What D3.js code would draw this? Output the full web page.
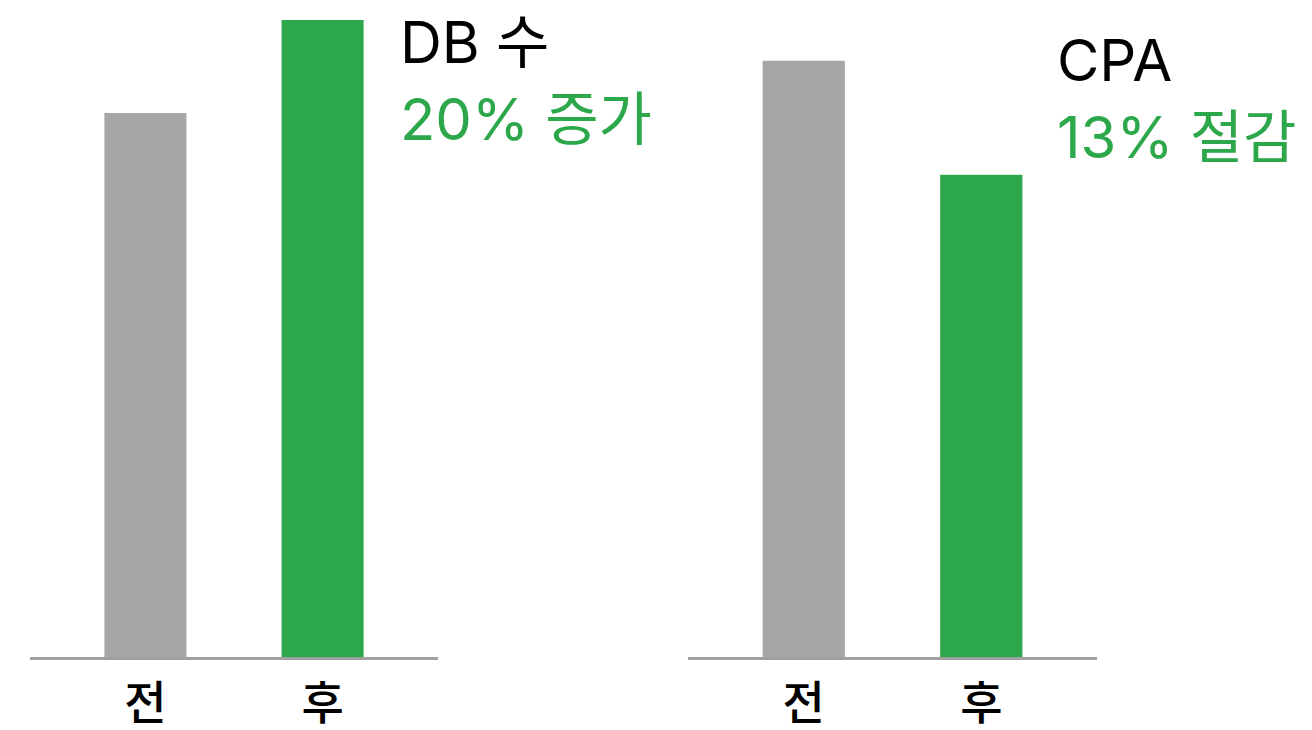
<!DOCTYPE html>
<html><head><meta charset="utf-8">
<script src="https://cdn.jsdelivr.net/npm/d3@7"></script>
<style>
html,body{margin:0;padding:0;background:#fff;}
text{font-family:Inter,"Noto Sans CJK KR",sans-serif;}
</style></head>
<body><svg id="c" width="1312" height="730"></svg>
<script>
const categories = ["전", "후"];
const dbValues = [85.4, 100];
const cpaValues = [93.6, 75.7];
const panelTitles = ["DB 수", "CPA"];
const panelNotes = ["20% 증가", "13% 절감"];

const svg = d3.select("#c");
const gray = "#a6a6a6", green = "#2ca84b";
const y = d3.scaleLinear().domain([0, 100]).range([657, 20]);

const panels = [
  {vals: dbValues, x0: 30, x1: 438, title: panelTitles[0], note: panelNotes[0], tx: 400, ty: 63, ny: 140},
  {vals: cpaValues, x0: 688, x1: 1097, title: panelTitles[1], note: panelNotes[1], tx: 1057, ty: 81, ny: 158}
];

panels.forEach(p => {
  const x = d3.scaleBand().domain(categories).range([p.x0, p.x1]).paddingInner(0.537).paddingOuter(0.42);
  const g = svg.append("g");
  g.selectAll("rect").data(p.vals).join("rect")
    .attr("x", (d, i) => x(categories[i]))
    .attr("width", x.bandwidth())
    .attr("y", d => y(d))
    .attr("height", d => y(0) - y(d))
    .attr("fill", (d, i) => i === 0 ? gray : green);
  const ax = g.append("g").attr("transform", "translate(0,658.5)")
    .call(d3.axisBottom(x).tickSize(0).tickPadding(0));
  ax.select(".domain").remove();
  g.append("line").attr("x1", p.x0).attr("x2", p.x1).attr("y1", 658.5).attr("y2", 658.5)
    .attr("stroke", "#a0a0a0").attr("stroke-width", 3);
  ax.selectAll(".tick text").attr("dy", null).attr("y", 60)
    .attr("font-size", 46).attr("font-weight", 500).attr("fill", "#000")
    .style("font-family", '"Noto Sans CJK KR",sans-serif');
  g.append("text").attr("x", p.tx).attr("y", p.ty).text(p.title)
    .attr("font-size", 58).attr("fill", "#000");
  g.append("text").attr("x", p.tx).attr("y", p.ny).text(p.note)
    .attr("font-size", 58).attr("fill", green);
});
</script></body></html>
